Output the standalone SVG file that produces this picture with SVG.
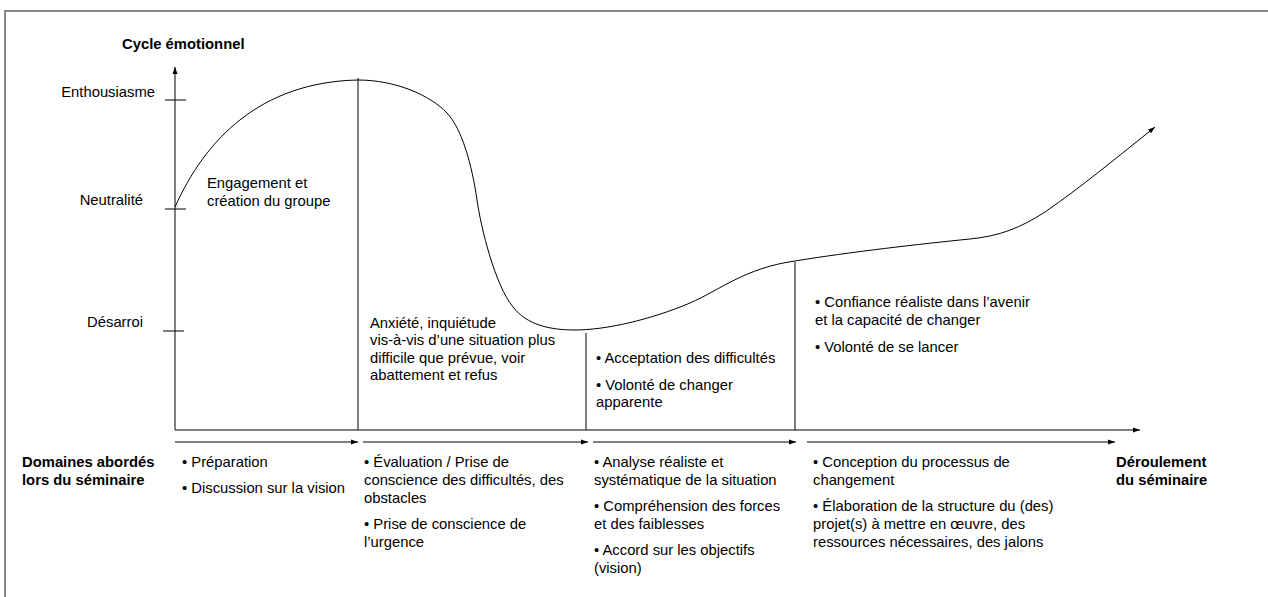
<svg xmlns="http://www.w3.org/2000/svg" width="1268" height="597" viewBox="0 0 1268 597">
<defs>
<marker id="ah" markerWidth="8" markerHeight="6" refX="7" refY="3" orient="auto" markerUnits="userSpaceOnUse">
<path d="M0,0.5 L7,3 L0,5.5 Z" fill="#000"/>
</marker>
<style>
text{font-family:"Liberation Sans",Arial,sans-serif;font-size:14.8px;fill:#000}
.b{font-weight:bold}
.ln{stroke:#000;stroke-width:1;fill:none}
.ax{stroke:#555;stroke-width:1.5;fill:none}
.fr{stroke:#888;stroke-width:2;fill:none}
</style>
</defs>
<rect width="1268" height="597" fill="#fff"/>
<path class="fr" d="M5,597 V11 H1268"/>

<g id="axes">
<text class="b" x="122" y="49">Cycle émotionnel</text>
<line class="ln" x1="175" y1="430" x2="175" y2="67" marker-end="url(#ah)"/>
<line class="ax" x1="175" y1="430" x2="1140" y2="430" marker-end="url(#ah)"/>
<line class="ln" x1="165" y1="100" x2="186" y2="100"/>
<line class="ln" x1="165" y1="209" x2="186" y2="209"/>
<line class="ln" x1="163" y1="331" x2="184" y2="331"/>
<text x="155" y="97" text-anchor="end">Enthousiasme</text>
<text x="143" y="205" text-anchor="end">Neutralité</text>
<text x="143" y="327" text-anchor="end">Désarroi</text>
</g>

<g id="connectors">
<path class="ln" d="M175,207 C205,140 260,82 358,80 C395,80 430,95 447,113 C462,129 472,165 477,200 C481,228 495,285 513,307 C527,325 550,330 575,330 C605,330 650,320 690,303 C720,290 745,268 795,261 C850,252 920,244 970,239 C1000,236 1020,228 1045,212 C1080,188 1120,155 1155,127" marker-end="url(#ah)"/>
<line class="ln" x1="358" y1="78" x2="358" y2="430"/>
<line class="ln" x1="586" y1="333" x2="586" y2="430"/>
<line class="ln" x1="795" y1="262" x2="795" y2="430"/>
<line class="ln" x1="175" y1="442" x2="358" y2="442" marker-end="url(#ah)"/>
<line class="ln" x1="363" y1="442" x2="588" y2="442" marker-end="url(#ah)"/>
<line class="ln" x1="593" y1="442" x2="796" y2="442" marker-end="url(#ah)"/>
<line class="ln" x1="807" y1="442" x2="1115" y2="442" marker-end="url(#ah)"/>
</g>

<g id="phase1">
<text x="207" y="188">Engagement et</text>
<text x="207" y="206">création du groupe</text>
</g>
<g id="phase2">
<text x="370" y="328">Anxiété, inquiétude</text>
<text x="370" y="345">vis-à-vis d’une situation plus</text>
<text x="370" y="363">difficile que prévue, voir</text>
<text x="370" y="380">abattement et refus</text>
</g>
<g id="phase3">
<text x="596" y="363">• Acceptation des difficultés</text>
<text x="596" y="390">• Volonté de changer</text>
<text x="596" y="407">apparente</text>
</g>
<g id="phase4">
<text x="815" y="307">• Confiance réaliste dans l’avenir</text>
<text x="815" y="325">et la capacité de changer</text>
<text x="815" y="352">• Volonté de se lancer</text>
</g>

<g id="domaines">
<text class="b" x="22" y="467">Domaines abordés</text>
<text class="b" x="22" y="485">lors du séminaire</text>
</g>
<g id="col1">
<text x="182" y="467">• Préparation</text>
<text x="182" y="493">• Discussion sur la vision</text>
</g>
<g id="col2">
<text x="364" y="467">• Évaluation / Prise de</text>
<text x="364" y="485">conscience des difficultés, des</text>
<text x="364" y="503">obstacles</text>
<text x="364" y="529">• Prise de conscience de</text>
<text x="364" y="547">l’urgence</text>
</g>
<g id="col3">
<text x="594" y="467">• Analyse réaliste et</text>
<text x="594" y="485">systématique de la situation</text>
<text x="594" y="511">• Compréhension des forces</text>
<text x="594" y="529">et des faiblesses</text>
<text x="594" y="555">• Accord sur les objectifs</text>
<text x="594" y="573">(vision)</text>
</g>
<g id="col4">
<text x="813" y="467">• Conception du processus de</text>
<text x="813" y="485">changement</text>
<text x="813" y="511">• Élaboration de la structure du (des)</text>
<text x="813" y="529">projet(s) à mettre en œuvre, des</text>
<text x="813" y="547">ressources nécessaires, des jalons</text>
</g>
<g id="deroulement">
<text class="b" x="1116" y="467">Déroulement</text>
<text class="b" x="1116" y="485">du séminaire</text>
</g>
</svg>
